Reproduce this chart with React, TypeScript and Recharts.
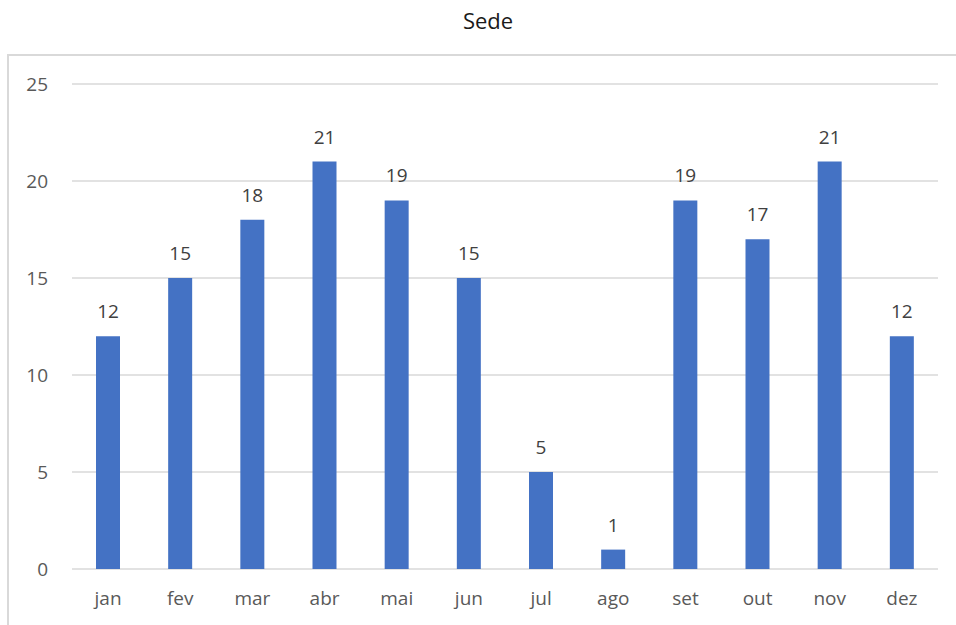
import { BarChart, Bar, XAxis, YAxis, CartesianGrid, LabelList } from 'recharts';

const months = ['jan', 'fev', 'mar', 'abr', 'mai', 'jun', 'jul', 'ago', 'set', 'out', 'nov', 'dez'];
const sede = [12, 15, 18, 21, 19, 15, 5, 1, 19, 17, 21, 12];
const yTicks = [0, 5, 10, 15, 20, 25];

const data = months.map((m, i) => ({ month: m, value: sede[i] }));

const font = "'Open Sans', 'Noto Sans', sans-serif";

export default function App() {
  return (
    <div style={{ position: 'absolute', left: 0, top: 0, width: 956, height: 625, overflow: 'hidden', background: '#fff', fontFamily: font }}>
      <div style={{ position: 'absolute', left: 7, top: 54, width: 970, height: 569, border: '2px solid #d9d9d9' }} />
      <div style={{ position: 'absolute', left: 0, top: 5, width: 976, textAlign: 'center', fontSize: 22, color: '#1a1a1a' }}>
        Sede
      </div>
      <div style={{ position: 'absolute', left: 0, top: 0 }}>
        <BarChart width={956} height={625} data={data} margin={{ top: 84, right: 18, bottom: 0, left: 0 }}>
          <CartesianGrid vertical={false} stroke="#d9d9d9" strokeWidth={1.5} />
          <XAxis
            dataKey="month"
            axisLine={false}
            tickLine={false}
            tickSize={0}
            tickMargin={23}
            height={56}
            tick={{ fill: '#595959', fontSize: 19, fontFamily: font }}
          />
          <YAxis
            domain={[0, 25]}
            ticks={yTicks}
            axisLine={false}
            tickLine={false}
            tickSize={0}
            tickMargin={24}
            width={72}
            tick={{ fill: '#595959', fontSize: 19, fontFamily: font }}
          />
          <Bar dataKey="value" fill="#4472c4" barSize={24} isAnimationActive={false}>
            <LabelList dataKey="value" position="top" offset={18} fill="#404040" fontSize={19} fontFamily={font} />
          </Bar>
        </BarChart>
      </div>
    </div>
  );
}
